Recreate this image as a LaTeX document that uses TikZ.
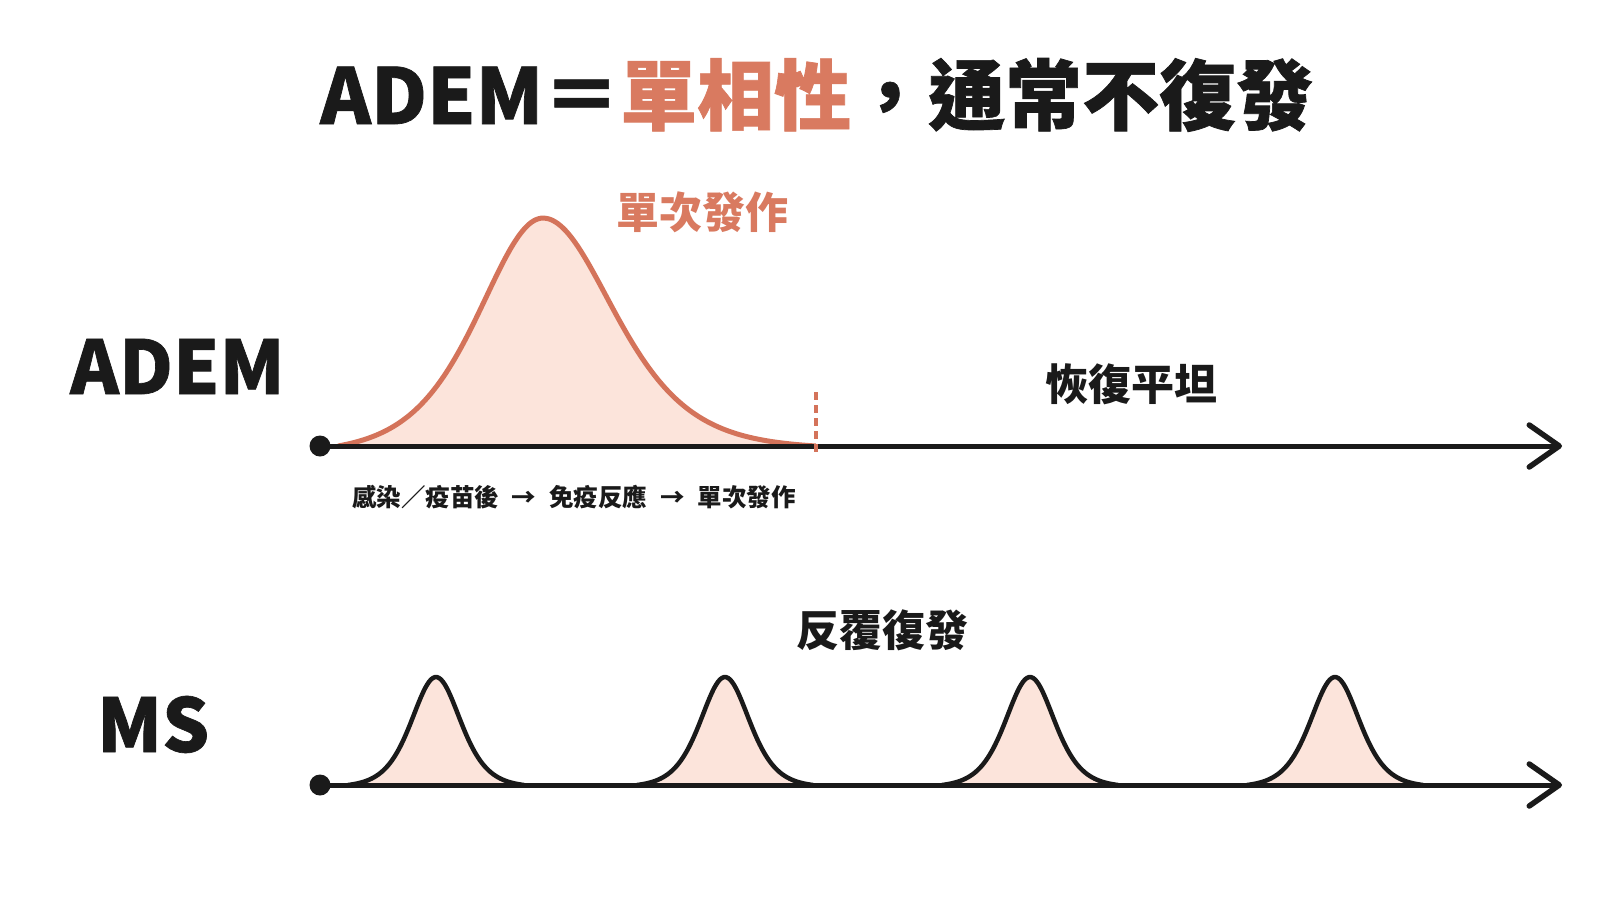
\documentclass[tikz,border=0pt]{standalone}
\usepackage{fontspec}
\setmainfont{Noto Sans CJK TC}
\newfontfamily\heavyfont{Noto Sans CJK TC}[BoldFeatures={FakeBold=0.9}]
\usetikzlibrary{arrows.meta}
\definecolor{ink}{HTML}{1A1A1A}
\definecolor{accent}{HTML}{D4735A}
\definecolor{accenttext}{HTML}{D97A60}
\definecolor{blush}{HTML}{FCE4DB}
\tikzset{
  bigtext/.style={inner sep=0pt, text=ink, font=\heavyfont\fontsize{77pt}{90pt}\selectfont\bfseries},
  labeltext/.style={inner sep=0pt, text=ink, font=\heavyfont\fontsize{74pt}{86pt}\selectfont\bfseries},
  midtext/.style={inner sep=0pt, text=ink, font=\fontsize{43pt}{50pt}\selectfont\bfseries},
  smalltext/.style={inner sep=0pt, text=ink, font=\fontsize{24.5pt}{28pt}\selectfont\bfseries},
  startdot/.style={circle, fill=ink, inner sep=0pt, minimum size=21pt},
  axisline/.style={draw=ink, line width=5pt, -{Straight Barb[length=30pt, width=42pt, line width=5.5pt, round]}},
  ademcurve/.style={draw=accent, line width=5pt, line join=round},
  mscurve/.style={draw=ink, line width=4.5pt, line join=round},
  peakfill/.style={fill=blush},
  endmark/.style={draw=accent, line width=3.2pt, dash pattern=on 8pt off 5pt}
}
\begin{document}
\begin{tikzpicture}[x=1pt,y=-1pt]
\useasboundingbox (0,0) rectangle (1600,900);
\fill[white] (0,0) rectangle (1600,900);

% constants for truncated sech^2 bells
\pgfmathsetmacro\aL{1/(cosh(205/86)*cosh(205/86))}
\pgfmathsetmacro\aR{1/(cosh(273/95)*cosh(273/95))}
\pgfmathsetmacro\aM{1/(cosh(88/33)*cosh(88/33))}

% ---------- title ----------
\node[bigtext, anchor=base west] (title) at (320,124)
  {ADEM＝\textcolor{accenttext}{單相性}，通常不復發};

% ---------- ADEM row ----------
\node[labeltext, anchor=base west] (ademlabel) at (70,394) {ADEM};

\node[startdot] (ademstart) at (320,446) {};
\coordinate (ademend) at (1562,446);

\fill[peakfill] (338,446)
  -- plot[domain=338:543, samples=90] (\x,{446-228*(1/(cosh((\x-543)/86)*cosh((\x-543)/86))-\aL)/(1-\aL)})
  -- plot[domain=543:816, samples=110] (\x,{446-228*(1/(cosh((\x-543)/95)*cosh((\x-543)/95))-\aR)/(1-\aR)})
  -- (816,446) -- cycle;
\draw[ademcurve]
  plot[domain=338:543, samples=90] (\x,{446-228*(1/(cosh((\x-543)/86)*cosh((\x-543)/86))-\aL)/(1-\aL)})
  -- plot[domain=543:816, samples=110] (\x,{446-228*(1/(cosh((\x-543)/95)*cosh((\x-543)/95))-\aR)/(1-\aR)});

\draw[axisline] (ademstart.center) -- (ademend);

\coordinate (marktop) at (816,392);
\coordinate (markbot) at (816,456);
\draw[endmark] (marktop) -- (markbot);

\node[midtext, text=accenttext] (single) at (702,212) {單次發作};
\node[midtext] (flat) at (1131,384) {恢復平坦};
\node[smalltext] (steps) at (574,497)
  {感染／疫苗後\hspace{13pt}→\hspace{13pt}免疫反應\hspace{13pt}→\hspace{13pt}單次發作};

% ---------- MS row ----------
\node[labeltext, anchor=base west] (mslabel) at (97,752) {MS};
\node[midtext] (relapse) at (882,630) {反覆復發};

\node[startdot] (msstart) at (320,785) {};
\coordinate (msend) at (1562,785);

\foreach \c in {436,725,1030,1335}{
  \pgfmathsetmacro\lo{\c-88}
  \pgfmathsetmacro\hi{\c+88}
  \fill[peakfill] plot[domain=\lo:\hi, samples=90] (\x,{785-108*(1/(cosh((\x-\c)/33)*cosh((\x-\c)/33))-\aM)/(1-\aM)}) -- cycle;
  \draw[mscurve] plot[domain=\lo:\hi, samples=90] (\x,{785-108*(1/(cosh((\x-\c)/33)*cosh((\x-\c)/33))-\aM)/(1-\aM)});
}

\draw[axisline] (msstart.center) -- (msend);
\end{tikzpicture}
\end{document}
